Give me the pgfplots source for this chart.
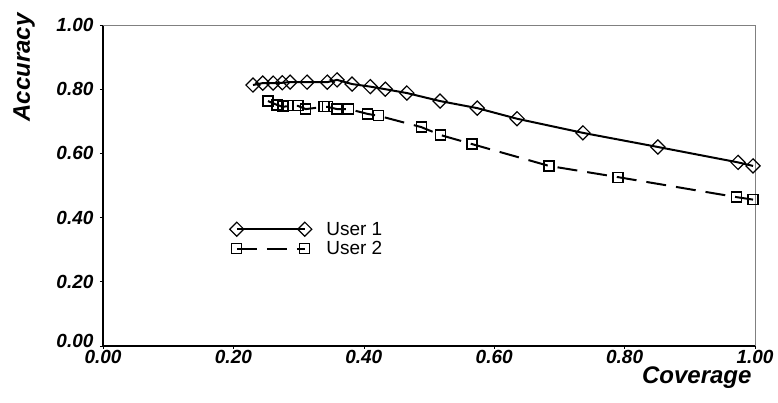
\documentclass[border=0pt]{standalone}
\usepackage{pgfplots}
\pgfplotsset{compat=1.18}
\usepackage{fontspec}
\setmainfont{Liberation Sans}

\newcommand{\tickfont}{\fontsize{19}{19}\selectfont\bfseries\itshape}
\newcommand{\labfont}{\fontsize{24}{24}\selectfont\bfseries\itshape}

\begin{document}
\begin{tikzpicture}
\useasboundingbox (-103pt,-57pt) rectangle (675pt,346pt);
\begin{axis}[
    scale only axis,
    width=652pt, height=321pt,
    xmin=0, xmax=1, ymin=0, ymax=1,
    xtick={0,0.2,...,1.0}, ytick={0.2,0.4,...,1.0},
    extra y ticks={0},
    extra y tick style={yticklabel style={yshift=5pt}},
    tick pos=left,
    tick align=outside,
    major tick length=3pt,
    tick style={black, line width=0.6pt},
    axis line style={draw=none},
    clip=false,
    /pgf/number format/assume math mode=true,
    /pgf/number format/fixed, /pgf/number format/fixed zerofill,
    /pgf/number format/precision=2,
    ticklabel style={font=\tickfont},
    xticklabel style={yshift=2pt},
    yticklabel style={xshift=-3pt},
    xlabel={Coverage}, ylabel={Accuracy},
    every axis x label/.style={at={(rel axis cs:1,0)}, anchor=base east, yshift=-38pt, font=\labfont},
    every axis y label/.style={at={(rel axis cs:0,1)}, xshift=-73pt, yshift=15pt, rotate=90, anchor=base east, font=\labfont},
    legend style={at={(rel axis cs:0.194,0.333)}, anchor=west, draw=none, fill=none,
        inner sep=0pt, font=\fontsize{19}{19}\selectfont,
        nodes={inner sep=2.5pt},
        /tikz/every odd column/.append style={column sep=12pt}},
    legend cell align=left,
    legend image code/.code={\draw[#1] plot coordinates {(0pt,0pt) (68pt,0pt)};},
]
\draw[black, line width=2pt] (rel axis cs:0,1) -- (rel axis cs:0,0) -- (rel axis cs:1,0);
\draw[gray, line width=0.8pt] (rel axis cs:0,1) -- (rel axis cs:1,1) -- (rel axis cs:1,0);

\addplot[black, line width=2pt, mark=square, mark size=5pt,
    mark options={rotate=45, solid, fill=white, line width=1.2pt}] coordinates {
    (0.230,0.813) (0.245,0.819) (0.261,0.819) (0.275,0.820) (0.287,0.822)
    (0.313,0.822) (0.344,0.822) (0.359,0.829) (0.382,0.816) (0.410,0.808)
    (0.433,0.800) (0.466,0.788) (0.517,0.763) (0.574,0.741) (0.635,0.708)
    (0.736,0.664) (0.851,0.620) (0.974,0.572) (0.997,0.561)};
\addlegendentry{User 1}

\addplot[black, line width=2pt, dash pattern=on 20pt off 10pt, mark=square, mark size=5pt,
    mark options={solid, fill=white, line width=1.2pt}] coordinates {
    (0.253,0.763) (0.267,0.751) (0.276,0.745) (0.285,0.748) (0.299,0.748)
    (0.311,0.738) (0.339,0.745) (0.344,0.745) (0.359,0.738) (0.377,0.738)
    (0.406,0.723) (0.423,0.717) (0.488,0.682) (0.518,0.657) (0.566,0.629)
    (0.684,0.561) (0.790,0.526) (0.971,0.464) (0.997,0.456)};
\addlegendentry{User 2}
\end{axis}
\end{tikzpicture}
\end{document}
